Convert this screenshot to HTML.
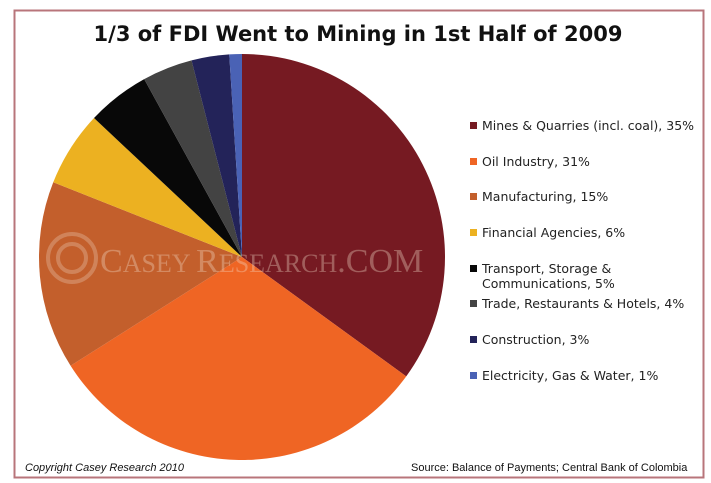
<!DOCTYPE html>
<html><head><meta charset="utf-8"><style>
body{margin:0;background:#fff;}
svg{display:block;font-family:"Liberation Sans",sans-serif;}
</style></head><body>
<svg width="711" height="483" viewBox="0 0 711 483">
<rect x="14.5" y="10.5" width="689" height="467" fill="#fff" stroke="#b8757b" stroke-width="2"/>
<text x="358" y="41" text-anchor="middle" font-size="21" font-weight="bold" font-family="DejaVu Sans, sans-serif" fill="#111">1/3 of FDI Went to Mining in 1st Half of 2009</text>
<g id="pie"></g>
<g opacity="0.35">
<circle cx="72" cy="258" r="24" fill="none" stroke="#e8c8b0" stroke-width="4"/>
<circle cx="72" cy="258" r="14" fill="none" stroke="#e8c8b0" stroke-width="4"/>
<text x="100" y="272" font-family="Liberation Serif, serif" font-size="34" fill="#f2dcc8"><tspan>C</tspan><tspan font-size="26">ASEY </tspan><tspan>R</tspan><tspan font-size="26">ESEARCH</tspan><tspan>.COM</tspan></text>
</g>
<g id="legend"></g>
<text x="25" y="471" font-size="11" font-style="italic" fill="#111">Copyright Casey Research 2010</text>
<text x="411" y="471" font-size="11" fill="#111">Source: Balance of Payments; Central Bank of Colombia</text>
</svg>
<script>
const categories=["Mines & Quarries (incl. coal), 35%","Oil Industry, 31%","Manufacturing, 15%","Financial Agencies, 6%","Transport, Storage &|Communications, 5%","Trade, Restaurants & Hotels, 4%","Construction, 3%","Electricity, Gas & Water, 1%"];
const values=[35,31,15,6,5,4,3,1];
const colors=["#761a22","#ef6524","#c35f2c","#ecb121","#080808","#434343","#232359","#4a62b5"];
const NS="http://www.w3.org/2000/svg";
const cx=242,cy=257,r=203;
const total=values.reduce((a,b)=>a+b,0);
const pie=document.getElementById('pie');
let a0=0;
values.forEach((v,i)=>{
  const a1=a0+v/total*2*Math.PI;
  const x0=cx+r*Math.sin(a0),y0=cy-r*Math.cos(a0),x1=cx+r*Math.sin(a1),y1=cy-r*Math.cos(a1);
  const p=document.createElementNS(NS,'path');
  p.setAttribute('d',`M${cx},${cy}L${x0},${y0}A${r},${r} 0 ${a1-a0>Math.PI?1:0} 1 ${x1},${y1}Z`);
  p.setAttribute('fill',colors[i]);
  
  
  pie.appendChild(p);
  a0=a1;
});
const lg=document.getElementById('legend');
const ys=[130,166,201,237,273,308,344,380];
categories.forEach((c,i)=>{
  const g=document.createElementNS(NS,'g');
  
  
  const s=document.createElementNS(NS,'rect');
  s.setAttribute('x',470);s.setAttribute('y',ys[i]-8);s.setAttribute('width',7);s.setAttribute('height',7);s.setAttribute('fill',colors[i]);
  g.appendChild(s);
  c.split('|').forEach((line,k)=>{
    const t=document.createElementNS(NS,'text');
    t.setAttribute('x',482);t.setAttribute('y',ys[i]+k*15);
    t.setAttribute('font-size','12.5');t.setAttribute('font-family','DejaVu Sans, sans-serif');t.setAttribute('fill','#222');
    t.textContent=line;g.appendChild(t);
  });
  lg.appendChild(g);
});
</script>
</body></html>
